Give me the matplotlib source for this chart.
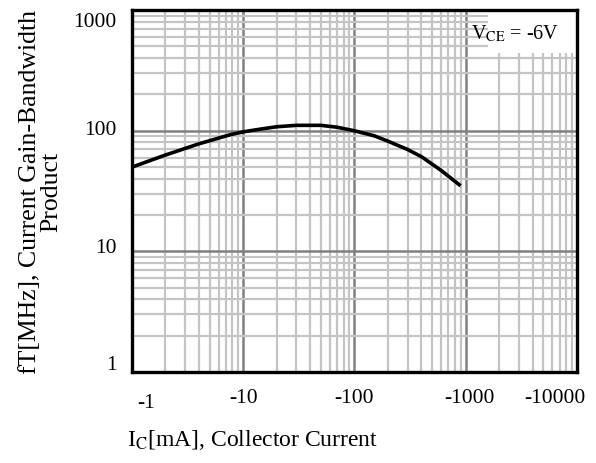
import matplotlib
matplotlib.use("Agg")
import matplotlib.pyplot as plt
import matplotlib.transforms as mtransforms
from matplotlib.ticker import LogLocator, NullFormatter

# collector current magnitude [mA] and fT [MHz]
ic_ma = [1, 2, 4, 7.7, 10, 14, 20, 30, 50, 70, 100, 150, 200, 300, 400, 600, 900]
ft_mhz = [50, 63, 78, 93, 98, 103, 108, 111, 111, 107, 100, 91, 82, 70, 61, 47, 35]

x_ticks = [1, 10, 100, 1000, 10000]
x_labels = ["-1", "-10", "-100", "-1000", "-10000"]
y_ticks = [1, 10, 100, 1000]
y_labels = ["1", "10", "100", "1000"]

plt.rcParams['font.family'] = ['Liberation Serif', 'DejaVu Serif']
plt.rcParams['mathtext.fontset'] = 'stix'

fig = plt.figure(figsize=(5.96, 4.63), dpi=100)
ax = fig.add_axes([0.2215, 0.1965, 0.7465, 0.7815])

ax.set_xscale('log')
ax.set_yscale('log')
ax.set_xlim(1, 10000)
ax.set_ylim(1, 1000)

ax.xaxis.set_minor_locator(LogLocator(base=10, subs=range(2, 10)))
ax.yaxis.set_minor_locator(LogLocator(base=10, subs=range(2, 10)))
ax.xaxis.set_minor_formatter(NullFormatter())
ax.yaxis.set_minor_formatter(NullFormatter())

ax.grid(which='minor', color='#c4c4c4', lw=1.6, zorder=0)
ax.grid(which='major', color='#808080', lw=1.8, zorder=1)

# white patch behind the annotation
ax.fill_between([1585, 10000], 441, 1000, color='white', zorder=2, lw=0)
ax.text(1110, 640, r'V$_{\mathrm{CE}}$ = -6V', fontsize=14.5, va='center', ha='left', zorder=3)

ax.plot(ic_ma, ft_mhz, color='black', lw=2.6, zorder=4, solid_capstyle='butt')

ax.set_xticks(x_ticks)
ax.set_xticklabels(x_labels, fontsize=15.5)
ax.set_yticks(y_ticks)
ax.set_yticklabels(y_labels, fontsize=15.5)
ax.tick_params(which='both', length=0)
ax.tick_params(axis='x', pad=12)
ax.tick_params(axis='y', pad=11)


def nudge(lab, dx, dy):
    lab.set_transform(lab.get_transform() + mtransforms.ScaledTranslation(dx, dy, fig.dpi_scale_trans))


xl = ax.get_xticklabels()
nudge(xl[0], 0.14, -0.05)
nudge(xl[3], 0.04, 0)
nudge(xl[4], -0.22, 0)
yl = ax.get_yticklabels()
nudge(yl[0], 0, 0.09)
nudge(yl[1], 0, 0.05)
nudge(yl[2], 0, 0.03)
nudge(yl[3], 0, -0.1)

for s in ax.spines.values():
    s.set_linewidth(2.4)
    s.set_zorder(5)

fig.text(0.068, 0.585, "fT[MHz], Current Gain-Bandwidth\nProduct", rotation=90,
         ha='center', va='center', fontsize=18.5, linespacing=1.0)
fig.text(0.4245, 0.05, r"I$_{\mathrm{C}}$[mA], Collector Current", ha='center', va='center', fontsize=17)

fig.savefig("out.png", dpi=100)
